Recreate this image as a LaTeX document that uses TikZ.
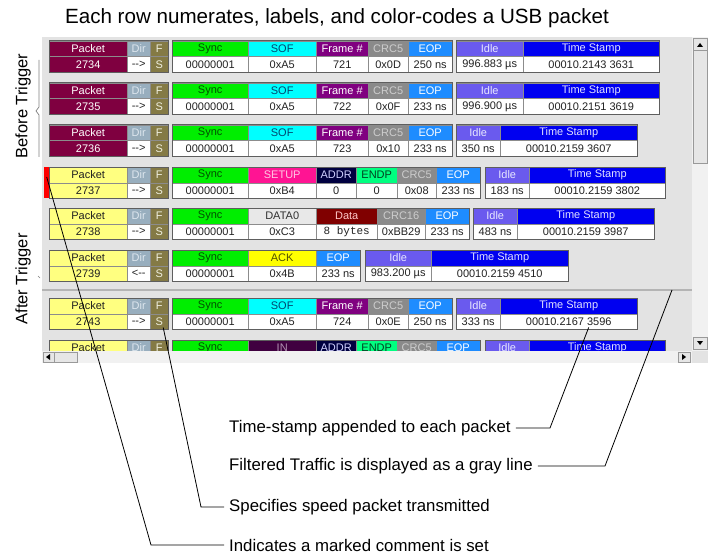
\documentclass[tikz,border=0pt]{standalone}
\usepackage{fontspec}
\setmainfont{Liberation Sans}
\setmonofont{Liberation Mono}
\usepackage{tikz}

\definecolor{panel}{HTML}{E3E3E3}
\definecolor{track}{HTML}{F1F1F1}
\definecolor{btnc}{HTML}{E6E6E6}
\definecolor{cellln}{HTML}{8C8C8C}
\definecolor{grpln}{HTML}{5E5E5E}
\definecolor{grayline}{HTML}{B4B4B4}
\definecolor{valT}{HTML}{222222}
\definecolor{cPk}{HTML}{7F0040}   \definecolor{tPk}{HTML}{FFFFFF}
\definecolor{cPky}{HTML}{FFFF80}  \definecolor{tPky}{HTML}{202020}
\definecolor{cDir}{HTML}{98AEBE}  \definecolor{tDir}{HTML}{DDE6EE}
\definecolor{cF}{HTML}{847A45}    \definecolor{tF}{HTML}{F0F0E0}
\definecolor{cSync}{HTML}{00EE00} \definecolor{tSync}{HTML}{005000}
\definecolor{cSof}{HTML}{00FFFF}  \definecolor{tSof}{HTML}{004870}
\definecolor{cFrm}{HTML}{800080}  \definecolor{tFrm}{HTML}{FFFFFF}
\definecolor{cCrc}{HTML}{8A8A8A}  \definecolor{tCrc}{HTML}{CDCDCD}
\definecolor{cEop}{HTML}{1E8CFF}  \definecolor{tEop}{HTML}{FFFFFF}
\definecolor{cIdle}{HTML}{6A5AEE} \definecolor{tIdle}{HTML}{E8E8FF}
\definecolor{cTs}{HTML}{0000F0}   \definecolor{tTs}{HTML}{E0E0FF}
\definecolor{cSetup}{HTML}{FF1493}\definecolor{tSetup}{HTML}{FFC8E4}
\definecolor{cAddr}{HTML}{000040} \definecolor{tAddr}{HTML}{D0D0FF}
\definecolor{cEndp}{HTML}{00FF80} \definecolor{tEndp}{HTML}{004020}
\definecolor{cData0}{HTML}{E8E8E8}\definecolor{tData0}{HTML}{303030}
\definecolor{cDat}{HTML}{800000}  \definecolor{tDat}{HTML}{FFC8C8}
\definecolor{cAck}{HTML}{FFFF00}  \definecolor{tAck}{HTML}{505000}
\definecolor{cIn}{HTML}{400040}   \definecolor{tIn}{HTML}{B090B0}

% packet number, direction and speed
\newcommand{\pktid}[6]{%
  \node[hd,fill=#3,text=#4,minimum width=78pt] (#1h1) at (49,#2) {Packet};
  \node[hd,fill=#3,text=#4,minimum width=78pt] (#1v1) at (49,#2+15.5) {#5};
  \node[hd,fill=cDir,text=tDir,minimum width=23pt] (#1h2) at (127,#2) {Dir};
  \node[vl,minimum width=23pt] (#1v2) at (127,#2+15.5) {#6};
  \node[hd,fill=cF,text=tF,minimum width=18pt] (#1h3) at (150,#2) {F};
  \node[hd,fill=cF,text=tF,minimum width=18pt] (#1v3) at (150,#2+15.5) {S};
  \draw[grp] (#1h1.north west) rectangle (#1v3.south east);}

% a framed group of fields: name, top, last index, cells
\newcommand{\pktgrp}[4]{%
  \foreach \xa/\xb/\fc/\tc/\hd/\val [count=\i] in {#4}{
    \node[hd,fill=\fc,text=\tc,minimum width={(\xb-\xa)*1pt}] (#1h\i) at (\xa,#2) {\hd};
    \node[vl,minimum width={(\xb-\xa)*1pt}] (#1v\i) at (\xa,#2+15.5) {\val};
  }
  \draw[grp] (#1h1.north west) rectangle (#1v#3.south east);}

\begin{document}
\begin{tikzpicture}
  [x=1pt,y=-1pt,
   hd/.style={draw=cellln,anchor=north west,minimum height=15.5pt,inner sep=0pt,font=\fontsize{11}{12}\selectfont},
   vl/.style={hd,fill=white,text=valT},
   grp/.style={draw=grpln,line width=1pt},
   lbl/.style={anchor=west,inner sep=0pt,font=\fontsize{16.8}{18}\selectfont},
   side/.style={rotate=90,inner sep=0pt,font=\fontsize{16.5}{18}\selectfont},
   leader/.style={line width=0.8pt},
   btn/.style={fill=btnc,draw=gray!80}]
  \useasboundingbox (0,0) rectangle (711,556);
  \fill[white] (0,0) rectangle (711,556);

  \node[font=\fontsize{20.6}{22}\selectfont] (title) at (337,18) {Each row numerates, labels, and color-codes a USB packet};

  % window
  \fill[panel] (42,37) rectangle (692,351);
  \draw[grayline,line width=2pt] (42,290) -- (692,290);
  \coordinate (grayln) at (672,290);

  \node[side] (before) at (23,106) {Before Trigger};
  \node[side] (after) at (23,279) {After Trigger};
  \draw[gray,line width=0.7pt] (39,60) -- (39,107) -- (36,111) -- (39,115) -- (39,157);
  \draw[gray,line width=0.7pt] (38,276) -- (40,278);

  % rows
  \pktid{a1}{41}{cPk}{tPk}{2734}{-{}->}
  \pktgrp{b1}{41}{5}{172/248/cSync/tSync/Sync/00000001,248/316/cSof/tSof/SOF/0xA5,316/368/cFrm/tFrm/Frame \#/721,368/408/cCrc/tCrc/CRC5/0x0D,408/452/cEop/tEop/EOP/250 ns}
  \pktgrp{c1}{41}{2}{456/523/cIdle/tIdle/Idle/996.883 µs,523/659/cTs/tTs/Time Stamp/00010.2143 3631}

  \pktid{a2}{83}{cPk}{tPk}{2735}{-{}->}
  \pktgrp{b2}{83}{5}{172/248/cSync/tSync/Sync/00000001,248/316/cSof/tSof/SOF/0xA5,316/368/cFrm/tFrm/Frame \#/722,368/408/cCrc/tCrc/CRC5/0x0F,408/452/cEop/tEop/EOP/233 ns}
  \pktgrp{c2}{83}{2}{456/523/cIdle/tIdle/Idle/996.900 µs,523/659/cTs/tTs/Time Stamp/00010.2151 3619}

  \pktid{a3}{125}{cPk}{tPk}{2736}{-{}->}
  \pktgrp{b3}{125}{5}{172/248/cSync/tSync/Sync/00000001,248/316/cSof/tSof/SOF/0xA5,316/368/cFrm/tFrm/Frame \#/723,368/408/cCrc/tCrc/CRC5/0x10,408/452/cEop/tEop/EOP/233 ns}
  \pktgrp{c3}{125}{2}{456/500/cIdle/tIdle/Idle/350 ns,500/637/cTs/tTs/Time Stamp/00010.2159 3607}

  \node[fill=red,anchor=north west,minimum width=5pt,minimum height=31pt,inner sep=0pt] (mark) at (44,167) {};
  \pktid{a4}{167}{cPky}{tPky}{2737}{-{}->}
  \pktgrp{b4}{167}{6}{172/248/cSync/tSync/Sync/00000001,248/316/cSetup/tSetup/SETUP/0xB4,316/356/cAddr/tAddr/ADDR/0,356/397/cEndp/tEndp/ENDP/0,397/436/cCrc/tCrc/CRC5/0x08,436/480/cEop/tEop/EOP/233 ns}
  \pktgrp{c4}{167}{2}{485/529/cIdle/tIdle/Idle/183 ns,529/665/cTs/tTs/Time Stamp/00010.2159 3802}

  \pktid{a5}{208}{cPky}{tPky}{2738}{-{}->}
  \pktgrp{b5}{208}{5}{172/248/cSync/tSync/Sync/00000001,248/316/cData0/tData0/DATA0/0xC3,316/377/cDat/tDat/Data/\texttt{8 bytes},377/425/cCrc/tCrc/CRC16/0xBB29,425/469/cEop/tEop/EOP/233 ns}
  \pktgrp{c5}{208}{2}{473/517/cIdle/tIdle/Idle/483 ns,517/654/cTs/tTs/Time Stamp/00010.2159 3987}

  \pktid{a6}{250}{cPky}{tPky}{2739}{<-{}-}
  \pktgrp{b6}{250}{3}{172/248/cSync/tSync/Sync/00000001,248/316/cAck/tAck/ACK/0x4B,316/360/cEop/tEop/EOP/233 ns}
  \pktgrp{c6}{250}{2}{365/431/cIdle/tIdle/Idle/983.200 µs,431/568/cTs/tTs/Time Stamp/00010.2159 4510}

  \pktid{a7}{298}{cPky}{tPky}{2743}{-{}->}
  \pktgrp{b7}{298}{5}{172/248/cSync/tSync/Sync/00000001,248/316/cSof/tSof/SOF/0xA5,316/368/cFrm/tFrm/Frame \#/724,368/408/cCrc/tCrc/CRC5/0x0E,408/452/cEop/tEop/EOP/250 ns}
  \pktgrp{c7}{298}{2}{456/500/cIdle/tIdle/Idle/333 ns,500/637/cTs/tTs/Time Stamp/00010.2167 3596}

  \begin{scope}
    \clip (42,37) rectangle (692,351);
    \pktid{a8}{340}{cPky}{tPky}{}{}
    \pktgrp{b8}{340}{6}{172/248/cSync/tSync/Sync/{},248/316/cIn/tIn/IN/{},316/356/cAddr/tAddr/ADDR/{},356/397/cEndp/tEndp/ENDP/{},397/436/cCrc/tCrc/CRC5/{},436/480/cEop/tEop/EOP/{}}
    \pktgrp{c8}{340}{2}{485/529/cIdle/tIdle/Idle/{},529/665/cTs/tTs/Time Stamp/{}}
  \end{scope}

  % scroll bars
  \fill[track] (692,37) rectangle (708,351);
  \draw[btn] (693,38) rectangle (707,50);
  \draw[btn] (693,50) rectangle (707,163);
  \draw[btn] (693,337) rectangle (707,349);
  \fill (697,47) -- (703,47) -- (700,43) -- cycle;
  \fill (697,341) -- (703,341) -- (700,345) -- cycle;
  \fill[track] (42,351) rectangle (692,363);
  \fill[panel] (692,351) rectangle (708,363);
  \draw[btn] (43,352) rectangle (54,362);
  \draw[btn] (54,352) rectangle (77,362);
  \draw[btn] (678,352) rectangle (690,362);
  \fill (50,354) -- (50,360) -- (46,357) -- cycle;
  \fill (682,354) -- (682,360) -- (686,357) -- cycle;

  % call-outs
  \node[lbl] (tslbl) at (229,428) {Time-stamp appended to each packet};
  \node[lbl] (filtlbl) at (229,466) {Filtered Traffic is displayed as a gray line};
  \node[lbl] (speedlbl) at (229,507) {Specifies speed packet transmitted};
  \node[lbl] (marklbl) at (229,545) {Indicates a marked comment is set};

  \draw[leader] ([xshift=5pt]tslbl.east) -- (550,428) -- ([xshift=20pt,yshift=2pt]c7v2.south);
  \draw[leader] ([xshift=5pt]filtlbl.east) -- (605,466) -- (grayln);
  \draw[leader] ([xshift=-5pt]speedlbl.west) -- (201,507) -- ([xshift=4pt,yshift=2pt]a7v3.south);
  \draw[leader] ([xshift=-5pt]marklbl.west) -- (151,545) -- ([yshift=-10pt]mark.north);
\end{tikzpicture}
\end{document}
